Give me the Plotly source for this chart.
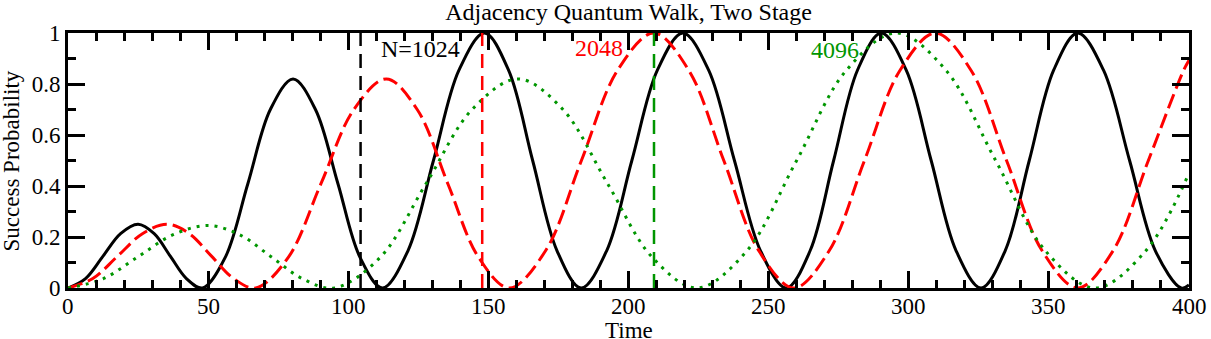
import plotly.graph_objects as go

# ---- data ----
black_t = [0, 6.25, 12.5, 18.75, 25, 30.75, 36.5, 42.25, 48,
           56.1, 64.2, 72.2, 80.3, 88.3, 96.3, 104.2, 112.2,
           121.3, 130.4, 139.5, 148.6, 157.2, 165.8, 174.5, 183.1,
           192.2, 201.2, 210.3, 219.4, 228.6, 237.8, 247.1, 256.3,
           264.8, 273.2, 281.7, 290.2, 299.1, 308.0, 316.9, 325.8,
           334.4, 343.0, 351.7, 360.3, 369.5, 378.8, 388.0, 397.2, 400]
black_p = [0, 0.037, 0.125, 0.213, 0.25, 0.213, 0.125, 0.037, 0,
           0.12, 0.41, 0.70, 0.82, 0.70, 0.41, 0.12, 0,
           0.146, 0.5, 0.854, 1, 0.854, 0.5, 0.146, 0,
           0.146, 0.5, 0.854, 1, 0.854, 0.5, 0.146, 0,
           0.146, 0.5, 0.854, 1, 0.854, 0.5, 0.146, 0,
           0.146, 0.5, 0.854, 1, 0.854, 0.5, 0.146, 0, 0.012]

red_t = [0, 8.85, 17.7, 26.55, 35.4, 43.3, 51.2, 59.1, 67,
         78.6, 90.3, 102.0, 113.6, 124.6, 135.5, 146.5, 157.5,
         170.4, 183.2, 196.1, 209.0, 221.5, 234.0, 246.5, 259.0,
         271.6, 284.2, 296.9, 309.5, 322.2, 334.9, 347.6, 360.3,
         372.9, 385.5, 398.1, 400]
red_p = [0, 0.037, 0.125, 0.213, 0.25, 0.213, 0.125, 0.037, 0,
         0.12, 0.41, 0.70, 0.82, 0.70, 0.41, 0.12, 0,
         0.146, 0.5, 0.854, 1, 0.854, 0.5, 0.146, 0,
         0.146, 0.5, 0.854, 1, 0.854, 0.5, 0.146, 0,
         0.146, 0.5, 0.854, 0.893]

green_t = [0, 12.5, 25, 37.5, 50, 61.25, 72.5, 83.75, 95,
           111.4, 127.8, 144.2, 160.6, 176.6, 192.5, 208.5, 224.5,
           242.25, 260.0, 277.75, 295.5, 313.25, 331.0, 348.75, 366.5,
           384.6, 400]
green_p = [0, 0.036, 0.1225, 0.209, 0.245, 0.209, 0.1225, 0.036, 0,
           0.12, 0.41, 0.70, 0.82, 0.70, 0.41, 0.12, 0,
           0.146, 0.5, 0.854, 1, 0.854, 0.5, 0.146, 0,
           0.146, 0.45]

marker_times = [104.4, 147.8, 209.1]
marker_labels = ["N=1024", "2048", "4096"]
label_t = [110.9, 180.1, 264.3]
label_p = [0.938, 0.94, 0.933]

x_ticks = [0, 50, 100, 150, 200, 250, 300, 350, 400]
x_tick_text = ["0", "50", "100", "150", "200", "250", "300", "350", "400"]
y_ticks = [0, 0.2, 0.4, 0.6, 0.8, 1]
y_tick_text = ["0", "0.2", "0.4", "0.6", "0.8", "1"]

colors = ["#000000", "#ff0000", "#009600"]
FONT = "Liberation Serif"

fig = go.Figure()
fig.add_trace(go.Scatter(x=black_t, y=black_p, mode="lines",
                         line=dict(color=colors[0], width=3, shape="spline"),
                         showlegend=False, hoverinfo="skip"))
fig.add_trace(go.Scatter(x=red_t, y=red_p, mode="lines",
                         line=dict(color=colors[1], width=3, shape="spline", dash="15px,6px"),
                         showlegend=False, hoverinfo="skip"))
fig.add_trace(go.Scatter(x=green_t, y=green_p, mode="lines",
                         line=dict(color=colors[2], width=3, shape="spline", dash="3px,6px"),
                         showlegend=False, hoverinfo="skip"))

for t, c in zip(marker_times, colors):
    fig.add_trace(go.Scatter(x=[t, t], y=[0, 1], mode="lines",
                             line=dict(color=c, width=2.5, dash="14px,8px"),
                             showlegend=False, hoverinfo="skip"))

for txt, t, p, c in zip(marker_labels, label_t, label_p, colors):
    fig.add_annotation(x=t, y=p, xref="x", yref="y", text=txt, showarrow=False,
                       xanchor="left", yanchor="middle",
                       font=dict(family=FONT, size=24, color=c))

# x tick labels placed under the axis at the tick values
for t, txt in zip(x_ticks, x_tick_text):
    fig.add_annotation(x=t, y=-0.073, xref="x", yref="paper", text=txt, showarrow=False,
                       xanchor="center", yanchor="middle",
                       font=dict(family=FONT, size=23, color="black"))

fig.add_annotation(x=0.5, y=-0.166, xref="paper", yref="paper", text="Time",
                   showarrow=False, xanchor="center", yanchor="middle",
                   font=dict(family=FONT, size=23, color="black"))
fig.add_annotation(x=-0.05, y=0.5, xref="paper", yref="paper", text="Success Probability",
                   showarrow=False, xanchor="center", yanchor="middle", textangle=-90,
                   font=dict(family=FONT, size=23, color="black"))

axis_common = dict(showline=True, linewidth=3, linecolor="black", mirror="allticks",
                   ticks="inside", ticklen=17, tickwidth=2.5, tickcolor="black",
                   showgrid=False, zeroline=False, automargin=False,
                   tickfont=dict(family=FONT, size=23, color="black"))

fig.update_xaxes(range=[0, 400], tickvals=x_ticks, showticklabels=False,
                 minor=dict(dtick=10, ticks="inside", ticklen=8, tickwidth=2.5,
                            tickcolor="black", showgrid=False),
                 **axis_common)
fig.update_yaxes(range=[0, 1], tickvals=y_ticks, ticktext=y_tick_text,
                 minor=dict(dtick=0.1, ticks="inside", ticklen=8, tickwidth=2.5,
                            tickcolor="black", showgrid=False),
                 **axis_common)

fig.update_layout(
    width=1211, height=339,
    margin=dict(l=68, r=22, t=33, b=51, autoexpand=False),
    paper_bgcolor="white", plot_bgcolor="white",
    title=dict(text="Adjacency Quantum Walk, Two Stage", x=0.5, xref="paper",
               y=0.967, yref="container", xanchor="center", yanchor="middle",
               font=dict(family=FONT, size=24, color="black")),
)

fig.write_html("out.html", config={"displayModeBar": False},
               post_script="document.body.style.margin='0';document.body.style.overflow='hidden';")
